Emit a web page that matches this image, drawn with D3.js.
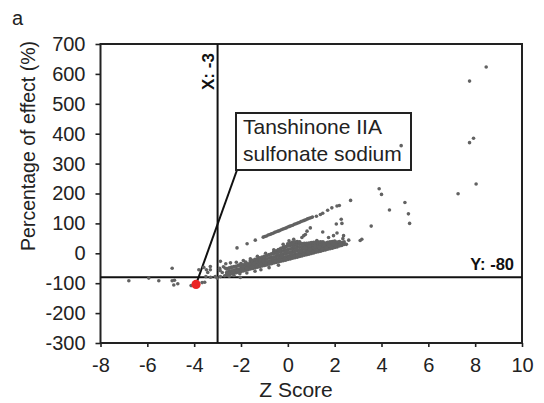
<!DOCTYPE html>
<html>
<head>
<meta charset="utf-8">
<script src="https://cdn.jsdelivr.net/npm/d3@7"></script>
<style>
    body { margin: 0; background: #fff; }
    svg { display: block; font-family: "Liberation Sans", Arial, sans-serif; }
</style>
</head>
<body>
<div id="chart"></div>
<script>
// tick values
const xTicks = [-8, -6, -4, -2, 0, 2, 4, 6, 8, 10];
const yTicks = [700, 600, 500, 400, 300, 200, 100, 0, -100, -200, -300];

// cut-off lines
const cutX = -3;
const cutY = -80;

// highlighted compound [z, effect]
const highlight = [-3.92, -104];
const highlightName = ["Tanshinone IIA", "sulfonate sodium"];

// scattered high responders [z, effect]
const outliers = [
    [8.47, 623], [7.76, 576], [7.93, 385], [7.76, 370], [8.04, 232], [7.27, 199],
    [3.90, 216], [4.00, 197], [5.00, 170], [4.34, 145], [5.15, 132], [5.20, 100],
    [3.56, 91], [3.16, 47], [3.09, 43], [4.84, 360]
];

// low tail [z, effect]
const leftTail = [
    [-6.79, -92], [-5.94, -83], [-5.51, -92], [-4.94, -50], [-4.94, -92], [-4.84, -90],
    [-4.87, -106], [-4.70, -102], [-4.13, -108], [-3.66, -98], [-3.55, -97], [-3.80, -55],
    [-3.59, -47], [-3.48, -55], [-3.31, -44], [-3.31, -55], [-3.42, -64], [-3.50, -78],
    [-3.30, -80], [-3.10, -78], [-3.02, -83], [-2.91, -50], [-2.91, -57], [-2.88, -78],
    [-2.03, -81], [-2.67, -50], [-2.60, -67]
];

// upper diagonal streak [z, effect]
const upperLine = [
    [-2.17, 18], [-1.74, 32], [-1.39, 44], [-1.05, 54], [-0.98, 56], [-0.91, 58], [-0.84, 61],
    [-0.77, 63], [-0.70, 65], [-0.63, 67], [-0.56, 70], [-0.49, 72], [-0.42, 74], [-0.35, 76],
    [-0.28, 79], [-0.21, 81], [-0.14, 83], [-0.07, 85], [0.00, 88], [0.07, 90], [0.14, 92],
    [0.21, 94], [0.28, 97], [0.35, 99], [0.42, 101], [0.49, 103], [0.56, 106], [0.63, 108],
    [0.70, 110], [0.77, 112], [0.84, 115], [0.91, 117], [0.98, 119], [1.05, 121], [1.22, 124],
    [1.39, 130], [1.49, 134], [1.70, 144], [1.88, 152], [2.10, 158], [2.20, 160], [2.68, 177]
];

// loose points around the main band [z, effect]
const fringe = [
    [-2.90, -57], [-2.88, -27], [-2.80, -64], [-2.75, -45], [-2.70, -75], [-2.65, -35],
    [-2.50, -77], [-2.45, -32], [-2.30, -74], [-2.20, -30], [-2.05, -68], [-1.90, -24],
    [-1.75, -66], [-1.60, -18], [-1.40, -60], [-1.30, -10], [-1.15, -55], [-0.95, 0],
    [-0.80, -48], [-0.60, 12], [-0.40, -40], [-0.20, 30], [0.05, 42], [0.25, 47],
    [0.60, 53], [0.68, 59], [0.75, 63], [0.82, 74], [0.96, 85], [1.24, 43], [1.49, 71],
    [1.74, 53], [1.95, 59], [2.10, 68], [2.35, 49], [2.38, 59], [2.31, 100], [2.28, 114],
    [2.07, 98], [2.50, 30], [2.60, 44]
];

// dense main band: one column per z with its effect values
const bandCols = [
    [-2.6, [-71, -63, -52]], [-2.5, [-70, -60, -49]], [-2.4, [-68, -59, -47]],
    [-2.3, [-66, -57, -45]], [-2.2, [-64, -55, -43]], [-2.1, [-62, -53, -40]],
    [-2.0, [-60, -51, -42, -35]], [-1.9, [-58, -49, -39]], [-1.8, [-56, -47, -38, -30]],
    [-1.7, [-54, -45, -36]], [-1.6, [-52, -43, -34, -26]], [-1.5, [-50, -41, -32, -24]],
    [-1.4, [-48, -39, -30, -21]], [-1.3, [-46, -37, -28, -19]], [-1.2, [-44, -35, -26, -16]],
    [-1.1, [-42, -33, -23, -13]], [-1.0, [-40, -31, -21, -11]], [-0.9, [-38, -29, -19, -8]],
    [-0.8, [-36, -27, -16, -5]], [-0.7, [-34, -25, -14, -2]], [-0.6, [-32, -23, -12, 0, 4]],
    [-0.5, [-30, -20, -10, 1, 8]], [-0.4, [-28, -18, -7, 4, 12]], [-0.3, [-26, -16, -5, 6, 16]],
    [-0.2, [-24, -14, -3, 8, 19]], [-0.1, [-22, -12, -1, 10, 22]], [0.0, [-20, -10, 1, 12, 24, 31]],
    [0.1, [-18, -8, 3, 14, 26, 34]], [0.2, [-16, -6, 5, 16, 28, 37]], [0.3, [-14, -4, 7, 18, 29, 38]],
    [0.4, [-12, -2, 9, 20, 30, 39]], [0.5, [-10, 0, 11, 21, 31, 38]], [0.6, [-8, 2, 12, 22, 32]],
    [0.7, [-6, 4, 14, 23, 33]], [0.8, [-4, 6, 15, 24, 33]], [0.9, [-2, 8, 17, 26, 34]],
    [1.0, [0, 10, 19, 27, 35]], [1.1, [2, 11, 20, 28, 36]], [1.2, [4, 13, 22, 30, 37]],
    [1.3, [6, 15, 23, 31, 37]], [1.4, [8, 17, 25, 32, 38]], [1.5, [10, 18, 26, 33, 38]],
    [1.6, [12, 20, 28, 34]], [1.7, [14, 22, 30, 36]], [1.8, [16, 24, 31, 38]],
    [1.9, [18, 26, 33, 39]], [2.0, [20, 28, 35, 40]], [2.1, [22, 30, 37]],
    [2.2, [25, 32, 39]], [2.3, [27, 35]], [2.4, [30, 38]]
];

// extra points between the band columns (break up the regular rows)
const bandFill = [
    [-2.55, -66], [-2.35, -62], [-2.15, -58], [-1.95, -54], [-1.75, -50], [-1.55, -46],
    [-1.35, -42], [-1.15, -38], [-0.95, -34], [-0.75, -30], [-0.55, -27], [-0.35, -22],
    [-0.15, -17], [0.05, -14], [0.25, -10], [0.45, -6], [0.65, -2], [0.85, 2], [1.05, 5],
    [1.25, 9], [1.45, 13], [1.65, 17], [1.85, 21], [2.05, 25], [2.25, 30],
    [-1.45, -35], [-1.05, -26], [-0.65, -18], [-0.25, -9], [0.15, -1], [0.55, 6],
    [0.95, 13], [1.35, 20], [1.75, 27], [-0.45, -1], [-0.05, 6], [0.35, 14],
    [0.75, 18], [1.15, 24], [1.55, 29], [1.95, 32], [-0.15, 16], [0.25, 22], [0.65, 27]
];

const band = bandCols.flatMap(([z, ps]) => ps.map(p => [z, p])).concat(bandFill);
const otherPoints = [].concat(fringe, upperLine, leftTail, outliers);

const width = 544, height = 403;
const margin = {top: 44, right: 22, bottom: 60, left: 100.5};

const svg = d3.select("#chart").append("svg")
    .attr("width", width)
    .attr("height", height);

const x = d3.scaleLinear().domain([-8, 10]).range([margin.left, width - margin.right]);
const y = d3.scaleLinear().domain([-300, 700]).range([height - margin.bottom, margin.top]);

const ink = "#222";
const dotColor = "#626262";

// panel letter
svg.append("text")
    .attr("x", 12).attr("y", 25)
    .attr("font-size", 20).attr("fill", ink)
    .text("a");

// axes (plain hyphen minus like the original)
const xAxis = svg.append("g")
    .attr("transform", `translate(0,${y(-300)})`)
    .call(d3.axisBottom(x).tickValues(xTicks).tickFormat(d => String(d))
        .tickSize(4).tickPadding(11).tickSizeOuter(0));
const yAxis = svg.append("g")
    .attr("transform", `translate(${x(-8)},0)`)
    .call(d3.axisLeft(y).tickValues(yTicks).tickFormat(d => String(d))
        .tickSize(5).tickPadding(10).tickSizeOuter(0));

[xAxis, yAxis].forEach(g => {
    g.select(".domain").remove();
    g.selectAll("line").attr("stroke", ink).attr("stroke-width", 1.6);
    g.selectAll("text").attr("font-size", 20).attr("fill", ink)
        .attr("font-family", "'Liberation Sans', Arial, sans-serif");
});

// frame
svg.append("rect")
    .attr("x", x(-8)).attr("y", y(700))
    .attr("width", x(10) - x(-8)).attr("height", y(-300) - y(700))
    .attr("fill", "none").attr("stroke", ink).attr("stroke-width", 2);

// axis titles
svg.append("text")
    .attr("x", 296).attr("y", 397)
    .attr("text-anchor", "middle")
    .attr("font-size", 21).attr("fill", ink)
    .text("Z Score");

svg.append("text")
    .attr("transform", "translate(35,146) rotate(-90)")
    .attr("text-anchor", "middle")
    .attr("font-size", 19.5).attr("fill", ink)
    .text("Percentage of effect (%)");

// cut-off lines
svg.append("line")
    .attr("x1", x(cutX)).attr("x2", x(cutX))
    .attr("y1", y(700)).attr("y2", y(-300))
    .attr("stroke", "#111").attr("stroke-width", 2);
svg.append("line")
    .attr("x1", x(-8)).attr("x2", x(10))
    .attr("y1", y(cutY)).attr("y2", y(cutY))
    .attr("stroke", "#111").attr("stroke-width", 2);

svg.append("text")
    .attr("transform", `translate(${x(cutX) - 4},${y(700) + 46}) rotate(-90)`)
    .attr("font-size", 17).attr("font-weight", "bold").attr("fill", "#111")
    .text("X: -3");

svg.append("text")
    .attr("x", x(10) - 8).attr("y", y(cutY) - 7)
    .attr("text-anchor", "end")
    .attr("font-size", 16.5).attr("font-weight", "bold").attr("fill", "#111")
    .text("Y: -80");

// annotation box
const box = {x: 236, y: 113, w: 175, h: 57};

svg.append("line")
    .attr("x1", x(highlight[0])).attr("y1", y(highlight[1]))
    .attr("x2", box.x + 1).attr("y2", box.y + box.h)
    .attr("stroke", "#111").attr("stroke-width", 2);

svg.append("rect")
    .attr("x", box.x).attr("y", box.y)
    .attr("width", box.w).attr("height", box.h)
    .attr("fill", "none").attr("stroke", ink).attr("stroke-width", 2);

svg.append("g").selectAll("text")
    .data(highlightName)
    .join("text")
    .attr("x", box.x + 7)
    .attr("y", (d, i) => box.y + 21 + i * 26.5)
    .attr("font-size", 21).attr("fill", ink)
    .text(d => d);

// points
svg.append("g").selectAll("circle")
    .data(band)
    .join("circle")
    .attr("cx", d => x(d[0]))
    .attr("cy", d => y(d[1]))
    .attr("r", 2.0)
    .attr("fill", dotColor);

svg.append("g").selectAll("circle")
    .data(otherPoints)
    .join("circle")
    .attr("cx", d => x(d[0]))
    .attr("cy", d => y(d[1]))
    .attr("r", 1.8)
    .attr("fill", dotColor);

svg.append("circle")
    .attr("cx", x(highlight[0]))
    .attr("cy", y(highlight[1]))
    .attr("r", 4.6)
    .attr("fill", "#ea2424");
</script>
</body>
</html>
